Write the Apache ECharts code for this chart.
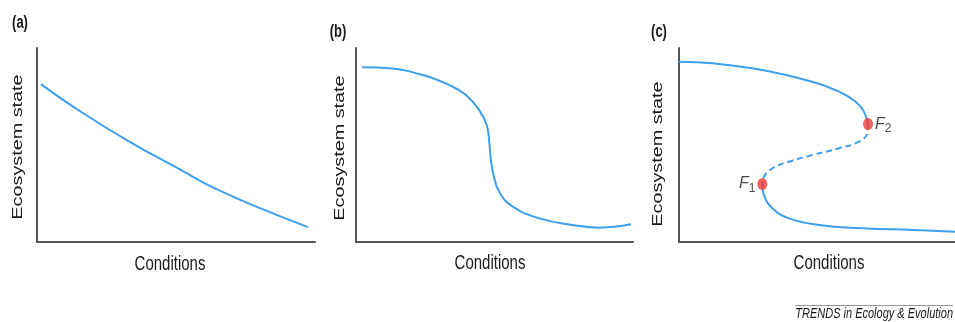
<!DOCTYPE html>
<html lang="en">
<head>
    <meta charset="UTF-8">
    <title>Ecosystem state vs conditions</title>
    <script src="https://cdn.jsdelivr.net/npm/echarts@6/dist/echarts.min.js"></script>
    <style>
        html, body { margin: 0; padding: 0; background: #fff; }
        #chart { width: 955px; height: 322px; }
    </style>
</head>
<body>
<div id="chart"></div>
<script type="text/javascript">
    // data, in axis units (0-100 both ways)
    var curveA = [[1.4, 81.4], [15.5, 67.4], [33.5, 51.5], [51.4, 37.4], [64.0, 27.6], [82.0, 16.4], [97.5, 7.7]];
    var curveB = [[2.2, 90.1], [12.0, 89.5], [24.1, 86.1], [33.7, 80.9], [39.7, 75.8], [44.5, 68.0], [47.2, 60.3],
        [48.1, 51.7], [48.5, 44.8], [49.4, 36.2], [51.7, 25.9], [56.6, 18.2], [66.2, 12.2], [78.2, 8.8], [87.8, 7.4], [99.3, 9.1]];
    var upperC = [[0, 92.9], [12.1, 92.1], [30.2, 88.7], [48.3, 82.6], [58.0, 77.5], [64.0, 72.3], [67.0, 67.2], [68.5, 60.8]];
    var middleC = [[68.5, 60.8], [68.2, 56.0], [65.2, 51.7], [58.0, 48.3], [48.3, 44.8], [39.9, 41.4], [33.8, 38.0], [30.8, 33.7], [30.2, 29.9]];
    var lowerC = [[30.2, 29.9], [30.8, 24.2], [33.8, 17.4], [39.9, 12.2], [50.7, 8.8], [66.4, 7.1], [84.5, 6.2], [100, 5.3]];
    var foldPoints = [[68.5, 60.8], [30.2, 29.9]];
    var foldNames = ['2', '1'];

    var blue = '#3d9ff0';
    var axisCol = '#555';
    var font = '"Liberation Sans", Arial, sans-serif';

    var grids = [
        {left: 37, top: 48, width: 278, height: 194},
        {left: 356, top: 48, width: 277, height: 194},
        {left: 679, top: 48, width: 276, height: 194}
    ];

    function axis(i, isX) {
        return {
            type: 'value', gridIndex: i, min: 0, max: 100,
            position: isX ? 'bottom' : 'left',
            axisLine: {show: true, onZero: false, lineStyle: {color: axisCol, width: 2}},
            axisTick: {show: false},
            axisLabel: {show: false},
            splitLine: {show: false}
        };
    }

    function curve(i, data, dashed) {
        return {
            type: 'line', xAxisIndex: i, yAxisIndex: i, data: data,
            smooth: 0.45, showSymbol: false, silent: true,
            lineStyle: {color: blue, width: 2, type: dashed ? [6, 4] : 'solid'}
        };
    }

    function text(str, x, y, opts) {
        opts = opts || {};
        return {
            type: 'text', x: x, y: y,
            rotation: opts.rotation || 0,
            scaleX: opts.scaleX || 1,
            scaleY: opts.scaleY || 1,
            style: {
                text: str,
                font: (opts.font || '15px') + ' ' + font,
                fill: '#1a1a1a',
                align: opts.align || 'center',
                verticalAlign: 'middle',
                textAlign: opts.align || 'center',
                textVerticalAlign: 'middle'
            }
        };
    }

    var graphics = [
        text('(a)', 20, 23, {font: 'bold 13px', scaleY: 1.35}),
        text('(b)', 338, 32, {font: 'bold 13px', scaleY: 1.35}),
        text('(c)', 659, 32, {font: 'bold 13px', scaleY: 1.35}),
        text('Ecosystem state', 18, 147, {rotation: Math.PI / 2, scaleX: 1.32}),
        text('Ecosystem state', 340, 148, {rotation: Math.PI / 2, scaleX: 1.32}),
        text('Ecosystem state', 658, 154, {rotation: Math.PI / 2, scaleX: 1.32}),
        text('Conditions', 170, 264, {scaleY: 1.35}),
        text('Conditions', 490, 263, {scaleY: 1.35}),
        text('Conditions', 829, 263, {scaleY: 1.35}),
        text('TRENDS in Ecology & Evolution', 953, 314, {font: 'italic 11px', scaleY: 1.35, align: 'right'}),
        {type: 'line', shape: {x1: 795, y1: 305.5, x2: 953, y2: 305.5}, style: {stroke: '#999', lineWidth: 1}}
    ];

    var option = {
        backgroundColor: '#fff',
        animation: false,
        grid: grids,
        xAxis: [axis(0, true), axis(1, true), axis(2, true)],
        yAxis: [axis(0, false), axis(1, false), axis(2, false)],
        graphic: graphics,
        series: [
            curve(0, curveA),
            curve(1, curveB),
            curve(2, upperC),
            curve(2, middleC, true),
            curve(2, lowerC),
            {
                type: 'scatter', xAxisIndex: 2, yAxisIndex: 2, silent: true,
                symbol: 'circle', symbolSize: [10, 12],
                itemStyle: {color: '#ef3a36'},
                data: foldPoints.map(function (p, k) {
                    return {
                        value: p,
                        label: {
                            show: true,
                            position: k === 0 ? 'right' : 'left',
                            distance: 2,
                            formatter: '{f|F}{s|' + foldNames[k] + '}',
                            rich: {
                                f: {fontSize: 16, fontStyle: 'italic', fontFamily: font, color: '#1a1a1a', lineHeight: 18},
                                s: {fontSize: 12, fontFamily: font, color: '#1a1a1a', verticalAlign: 'bottom', padding: [9, 0, 0, 0]}
                            }
                        }
                    };
                }),
                z: 5
            }
        ]
    };

    var myChart = echarts.init(document.getElementById('chart'));
    myChart.setOption(option);
</script>
</body>
</html>
